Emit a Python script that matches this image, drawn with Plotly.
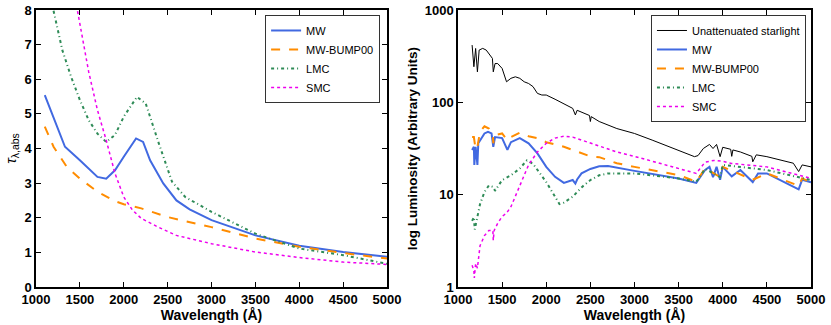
import plotly.graph_objects as go

# ---- left panel: absorption optical depth curves ----
tau_mw_wl = [1100, 1330, 1500, 1700, 1800, 1900, 2000, 2140, 2220, 2300, 2450, 2600, 2750, 2900,
             3000, 3500, 4000, 4500, 5000]
tau_mw = [5.54, 4.05, 3.66, 3.18, 3.13, 3.37, 3.76, 4.29, 4.19, 3.66, 2.99, 2.50, 2.24, 2.04,
          1.93, 1.49, 1.19, 1.01, 0.87]

tau_bump_wl = [1100, 1200, 1350, 1500, 1700, 1900, 2000, 2200, 2500, 3000, 3500, 4000, 4500, 5000]
tau_bump = [4.63, 4.05, 3.47, 3.13, 2.75, 2.48, 2.39, 2.27, 2.02, 1.73, 1.40, 1.16, 0.98, 0.82]

tau_lmc_wl = [1100, 1198, 1300, 1400, 1500, 1600, 1700, 1800, 1900, 2000, 2150, 2250, 2400,
              2550, 2700, 3000, 3500, 4000, 4500, 5000]
tau_lmc = [9.4, 8.0, 6.84, 6.07, 5.40, 4.82, 4.43, 4.19, 4.39, 4.92, 5.49, 5.30, 4.14,
           3.04, 2.60, 2.17, 1.54, 1.11, 0.92, 0.67]

tau_smc_wl = [1420, 1471, 1600, 1700, 1800, 1900, 2000, 2100, 2200, 2400, 2600, 3000, 3500,
              4000, 4500, 5000]
tau_smc = [9.0, 8.0, 6.22, 5.11, 4.24, 3.28, 2.60, 2.22, 1.98, 1.72, 1.49, 1.25, 1.01,
           0.85, 0.72, 0.65]

# ---- right panel: spectra ----
star_wl = [1160, 1180, 1200, 1220, 1240, 1280, 1320, 1360, 1390, 1400, 1420, 1450, 1500, 1550,
           1600, 1650, 1700, 1750, 1800, 1850, 1900, 1950, 2000, 2100, 2200, 2300, 2330, 2350,
           2490, 2500, 2510, 2600, 2800, 3000, 3200, 3500, 3680, 3720, 3780, 3850, 3890, 3930,
           3970, 4000, 4090, 4102, 4115, 4200, 4330, 4340, 4380, 4500, 4800, 4860, 4900, 5000]
star = [417, 243, 383, 214, 368, 384, 368, 325, 299, 214, 263, 263, 233, 167,
        182, 189, 182, 167, 160, 148, 125, 120, 120, 108, 97, 86, 73, 82,
        72, 62, 70, 62, 52, 46, 39, 30.5, 25.8, 26.5, 31.6, 35, 31.6, 35,
        25.8, 32.6, 31, 26, 30.5, 29, 26, 22.7, 27, 25.8, 21.9, 17.8, 21, 20]

mw_wl = [1160, 1180, 1185, 1200, 1220, 1230, 1300, 1340, 1380, 1400, 1420, 1500, 1560, 1600,
         1700, 1800, 1900, 2000, 2100, 2200, 2300, 2330, 2350, 2400, 2500, 2600, 2700, 2800,
         3000, 3500, 3700, 3800, 3850, 3890, 3930, 3970, 4000, 4102, 4200, 4340, 4400, 4500,
         4860, 4900, 5000]
mw = [30.5, 33, 21, 33, 21, 36, 46, 48, 46, 33, 42, 41, 30.5, 37,
      41, 36, 28, 20, 15.6, 13.4, 14.4, 13.2, 14.6, 17, 19, 20.3, 20.4, 19.5,
      18.1, 15, 13.4, 18.5, 20, 15.5, 20, 14.5, 20, 15.8, 18.5, 13.7, 17, 17,
      11.4, 14.5, 13.6]

bump_wl = [1160, 1180, 1200, 1220, 1250, 1300, 1350, 1395, 1400, 1410, 1500, 1560, 1600, 1700,
           1800, 1900, 2000, 2100, 2200, 2300, 2400, 2500, 2600, 2800, 3000, 3500, 3700, 3800,
           3970, 4000, 4340, 4500, 4860, 4900, 5000]
bump = [42, 42, 31, 33, 48, 55, 52, 44, 36, 44, 46, 39, 42, 46.8,
        43, 41, 37, 35, 33, 30.5, 28, 26, 25.5, 21.9, 20, 16.3, 13.8, 19.3,
        15.5, 20, 14.5, 17, 12.5, 15, 13.6]

lmc_wl = [1160, 1180, 1190, 1220, 1250, 1300, 1350, 1400, 1420, 1500, 1600, 1700, 1780, 1850,
          1900, 2000, 2100, 2150, 2200, 2300, 2400, 2500, 2600, 2700, 3000, 3500, 3700, 3800,
          3970, 4000, 4500, 5000]
lmc = [5.2, 5.7, 4.2, 5.7, 7.9, 10.7, 12.6, 12.1, 11, 14.4, 16.2, 19.2, 23.5, 21.6,
       18.5, 13.7, 9.5, 7.9, 8.2, 9.5, 12, 14.4, 16.2, 17, 17, 15, 13.8, 19,
       15.5, 21, 18.5, 14.4]

smc_wl = [1160, 1180, 1185, 1200, 1220, 1250, 1300, 1350, 1395, 1400, 1410, 1450, 1500, 1550,
          1600, 1650, 1700, 1800, 1900, 2000, 2100, 2200, 2300, 2400, 2500, 2600, 2800, 3000,
          3500, 3700, 3800, 3900, 4000, 4100, 4500, 5000]
smc = [1.72, 1.5, 1.25, 1.8, 1.6, 2.8, 3.6, 4.1, 4.1, 3.2, 4.1, 4.9, 5.8, 6.3,
       7.4, 9.5, 12.6, 21, 29, 36, 41, 43, 42, 39, 36, 33, 29, 26,
       19.3, 17, 22.5, 23.5, 23, 21.8, 20, 15]

BLUE = "#4169E1"
ORANGE = "#FF8C00"
GREEN = "#2E8B57"
MAGENTA = "#EE00EE"
FONT = "Liberation Sans"
LMC_DASH = "3px,3px,1px,3px"

fig = go.Figure()

# left panel traces
fig.add_trace(go.Scatter(x=tau_mw_wl, y=tau_mw, name="MW", mode="lines",
                         line=dict(color=BLUE, width=2), xaxis="x", yaxis="y"))
fig.add_trace(go.Scatter(x=tau_bump_wl, y=tau_bump, name="MW-BUMP00", mode="lines",
                         line=dict(color=ORANGE, width=2, dash="dash"), xaxis="x", yaxis="y"))
fig.add_trace(go.Scatter(x=tau_lmc_wl, y=tau_lmc, name="LMC", mode="lines",
                         line=dict(color=GREEN, width=2, dash=LMC_DASH), xaxis="x", yaxis="y"))
fig.add_trace(go.Scatter(x=tau_smc_wl, y=tau_smc, name="SMC", mode="lines",
                         line=dict(color=MAGENTA, width=1.5, dash="dot"), xaxis="x", yaxis="y"))

# right panel traces
fig.add_trace(go.Scatter(x=star_wl, y=star, name="Unattenuated starlight", mode="lines",
                         line=dict(color="black", width=1), xaxis="x2", yaxis="y2", legend="legend2"))
fig.add_trace(go.Scatter(x=mw_wl, y=mw, name="MW", mode="lines",
                         line=dict(color=BLUE, width=2), xaxis="x2", yaxis="y2", legend="legend2"))
fig.add_trace(go.Scatter(x=bump_wl, y=bump, name="MW-BUMP00", mode="lines",
                         line=dict(color=ORANGE, width=2, dash="dash"), xaxis="x2", yaxis="y2",
                         legend="legend2"))
fig.add_trace(go.Scatter(x=lmc_wl, y=lmc, name="LMC", mode="lines",
                         line=dict(color=GREEN, width=2, dash=LMC_DASH), xaxis="x2", yaxis="y2",
                         legend="legend2"))
fig.add_trace(go.Scatter(x=smc_wl, y=smc, name="SMC", mode="lines",
                         line=dict(color=MAGENTA, width=1.5, dash="dot"), xaxis="x2", yaxis="y2",
                         legend="legend2"))

axis_common = dict(showline=True, linecolor="black", linewidth=1.5, mirror="ticks",
                   ticks="inside", ticklen=5, tickcolor="black", showgrid=False, zeroline=False,
                   automargin=False, ticklabeloverflow="allow",
                   tickfont=dict(family=FONT, size=13, color="black", weight="bold"))
xticks = [1000, 1500, 2000, 2500, 3000, 3500, 4000, 4500, 5000]
title_font = dict(family=FONT, size=14, color="black", weight="bold")

fig.update_layout(
    width=831, height=325,
    margin=dict(l=36, r=20, t=10, b=38),
    paper_bgcolor="white", plot_bgcolor="white",
    font=dict(family=FONT, color="black"),
    xaxis=dict(domain=[0, 0.453], range=[1000, 5000], tickvals=xticks, anchor="y",
               title=dict(text="Wavelength (Å)", font=title_font, standoff=2), **axis_common),
    yaxis=dict(domain=[0, 1], range=[0, 8], dtick=1, anchor="x",
               title=dict(text="<i>τ</i><sub>λ,abs</sub>", font=dict(family=FONT, size=15, color="black"),
                          standoff=4), **axis_common),
    xaxis2=dict(domain=[0.5445, 1], range=[1000, 5000], tickvals=xticks, anchor="y2",
                title=dict(text="Wavelength (Å)", font=title_font, standoff=2), **axis_common),
    yaxis2=dict(domain=[0, 1], type="log", range=[0, 3], tickvals=[1, 10, 100, 1000],
                ticktext=["1", "10", "100", "1000"], anchor="x2",
                title=dict(text="log Luminosity (Arbitrary Units)", font=dict(family=FONT, size=13.5,
                           color="black", weight="bold"), standoff=4), **axis_common),
    legend=dict(x=0.444, y=0.982, xanchor="right", yanchor="top", bgcolor="white",
                bordercolor="#333333", borderwidth=1, font=dict(family=FONT, size=11),
                tracegroupgap=0, itemwidth=30),
    legend2=dict(x=0.9935, y=0.982, xanchor="right", yanchor="top", bgcolor="white",
                 bordercolor="#333333", borderwidth=1, font=dict(family=FONT, size=11),
                 tracegroupgap=0, itemwidth=30),
)

# drop the browser's default 8px body margin so the figure sits at the window corner
fig.write_html("out.html", config={"displayModeBar": False},
               post_script="document.body.style.margin='0px';")
